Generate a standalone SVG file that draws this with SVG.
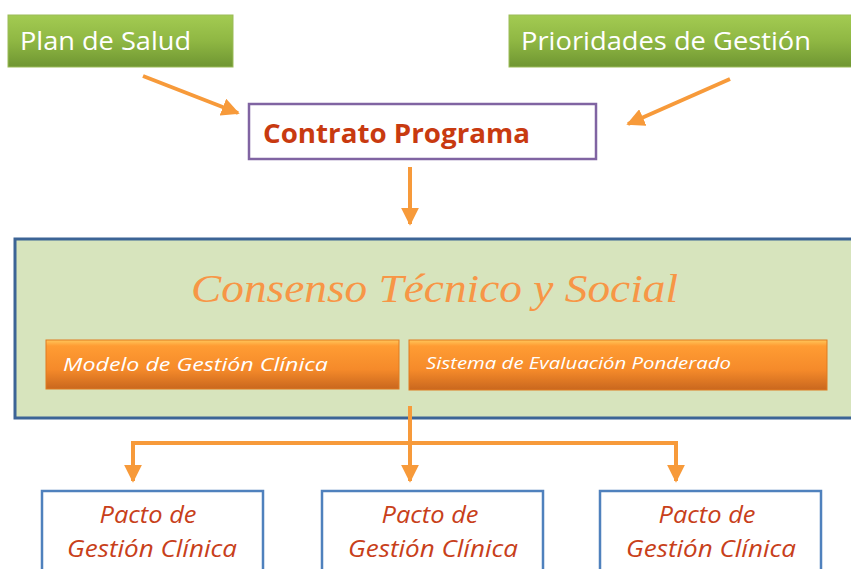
<svg xmlns="http://www.w3.org/2000/svg" width="851" height="569" viewBox="0 0 851 569">
<defs>
<linearGradient id="gGreen" x1="0" y1="0" x2="0" y2="1">
<stop offset="0" stop-color="#A3CB52"/>
<stop offset="0.5" stop-color="#8FB743"/>
<stop offset="1" stop-color="#6F9632"/>
</linearGradient>
<linearGradient id="gOrange" x1="0" y1="0" x2="0" y2="1">
<stop offset="0" stop-color="#FFC65A"/>
<stop offset="0.12" stop-color="#FF9C33"/>
<stop offset="0.6" stop-color="#F58A2A"/>
<stop offset="1" stop-color="#C9671E"/>
</linearGradient>
<marker id="ah" viewBox="0 0 10 10" refX="9" refY="5" markerWidth="4.5" markerHeight="4.5" orient="auto" markerUnits="strokeWidth">
<path d="M0,0 L10,5 L0,10 z" fill="#F79A3A"/>
</marker>
</defs>
<style>
.green{fill:url(#gGreen);stroke:#9BBB59;stroke-width:1}
.gtxt{font-family:"Open Sans","Liberation Sans",sans-serif;font-size:25px;fill:#FFFFFF}
.conn{fill:none;stroke:#F79A3A;stroke-width:4}
.btn{fill:url(#gOrange);stroke:#E07A20;stroke-width:1}
.btxt{font-family:"Open Sans","Liberation Sans",sans-serif;font-style:italic;fill:#FFFFFF}
.pacto{fill:#FFFFFF;stroke:#4F81BD;stroke-width:2.5}
.ptxt{font-family:"Open Sans","Liberation Sans",sans-serif;font-style:italic;font-size:23px;fill:#C8401A;text-anchor:middle}
</style>
<rect width="851" height="569" fill="#FFFFFF"/>
<g id="plan-de-salud">
<rect class="green" x="8" y="15" width="225" height="52"/>
<text class="gtxt" x="20" y="50" textLength="171" lengthAdjust="spacingAndGlyphs">Plan de Salud</text>
</g>
<g id="prioridades">
<rect class="green" x="509" y="15" width="345" height="52"/>
<text class="gtxt" x="521" y="50" textLength="290" lengthAdjust="spacingAndGlyphs">Prioridades de Gestión</text>
</g>
<g id="contrato-programa">
<rect x="249" y="104" width="347" height="55" fill="#FFFFFF" stroke="#8064A2" stroke-width="2.5"/>
<text x="263" y="143" font-family="'Open Sans','Liberation Sans',sans-serif" font-weight="bold" font-size="26" fill="#C83A10" textLength="267" lengthAdjust="spacingAndGlyphs">Contrato Programa</text>
</g>
<g id="consenso">
<rect x="15" y="239" width="850" height="179" fill="#D7E4BD" stroke="#3C6496" stroke-width="3"/>
<text x="191" y="302" font-family="'Liberation Serif',serif" font-style="italic" font-size="40" fill="#F79646" textLength="487" lengthAdjust="spacingAndGlyphs">Consenso Técnico y Social</text>
</g>
<g id="modelo">
<rect class="btn" x="46" y="340" width="353" height="49"/>
<text class="btxt" x="63" y="371" font-size="19" textLength="265" lengthAdjust="spacingAndGlyphs">Modelo de Gestión Clínica</text>
</g>
<g id="sistema">
<rect class="btn" x="409" y="340" width="418" height="50"/>
<text class="btxt" x="426" y="369" font-size="17" textLength="305" lengthAdjust="spacingAndGlyphs">Sistema de Evaluación Ponderado</text>
</g>
<g id="pacto-1">
<rect class="pacto" x="42" y="491" width="221" height="90"/>
<text class="ptxt" x="148" y="523" textLength="97" lengthAdjust="spacingAndGlyphs">Pacto de</text>
<text class="ptxt" x="152" y="557" textLength="170" lengthAdjust="spacingAndGlyphs">Gestión Clínica</text>
</g>
<g id="pacto-2">
<rect class="pacto" x="322" y="491" width="221" height="90"/>
<text class="ptxt" x="430" y="523" textLength="97" lengthAdjust="spacingAndGlyphs">Pacto de</text>
<text class="ptxt" x="433" y="557" textLength="170" lengthAdjust="spacingAndGlyphs">Gestión Clínica</text>
</g>
<g id="pacto-3">
<rect class="pacto" x="600" y="491" width="221" height="90"/>
<text class="ptxt" x="707" y="523" textLength="97" lengthAdjust="spacingAndGlyphs">Pacto de</text>
<text class="ptxt" x="711" y="557" textLength="170" lengthAdjust="spacingAndGlyphs">Gestión Clínica</text>
</g>
<g id="connectors">
<line class="conn" x1="143" y1="76" x2="238" y2="113" marker-end="url(#ah)"/>
<line class="conn" x1="730" y1="79" x2="628" y2="124" marker-end="url(#ah)"/>
<line class="conn" x1="410" y1="167" x2="410" y2="224" marker-end="url(#ah)"/>
<line class="conn" x1="410" y1="406" x2="410" y2="481" marker-end="url(#ah)"/>
<polyline class="conn" points="133,470 133,443 676,443 676,470"/>
<line class="conn" x1="133" y1="443" x2="133" y2="481" marker-end="url(#ah)"/>
<line class="conn" x1="676" y1="443" x2="676" y2="481" marker-end="url(#ah)"/>
</g>
</svg>
